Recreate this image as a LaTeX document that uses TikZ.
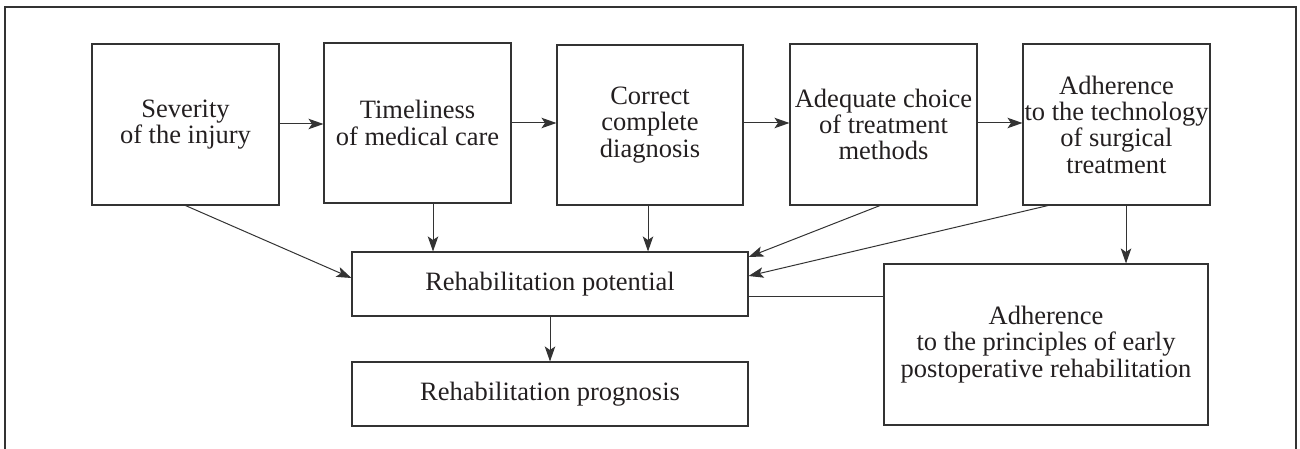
\documentclass[tikz,border=0pt]{standalone}
\usepackage{fontspec}
\setmainfont{Liberation Serif}
\usetikzlibrary{arrows.meta,calc}
\definecolor{linec}{HTML}{333333}
\definecolor{textc}{HTML}{231F20}
\begin{document}
\begin{tikzpicture}[x=1pt,y=-1pt,
 box/.style={draw=linec, line width=1.1pt, align=center, inner sep=0pt, text=textc,
   font=\fontsize{26.5}{26.3}\selectfont},
 arr/.style={draw=linec, line width=1pt, -{Stealth[length=15pt,width=10.5pt,inset=3.5pt]}},
 plain/.style={draw=linec, line width=1pt},
]
\useasboundingbox (0,0) rectangle (1300,449);
\draw[linec, line width=1.3pt] (5,449) -- (5,7) -- (1296,7) -- (1296,449);
\node[box, minimum width=187pt, minimum height=161pt] (b1) at (185.5,124.5) {Severity\\of the injury};
\node[box, minimum width=187pt, minimum height=160pt] (b2) at (417.5,123) {Timeliness\\of medical care};
\node[box, minimum width=186pt, minimum height=160pt] (b3) at (650,125) {Correct\\complete\\diagnosis};
\node[box, minimum width=187pt, minimum height=161pt] (b4) at (883.5,124.5) {Adequate choice\\of treatment\\methods};
\node[box, minimum width=187pt, minimum height=161pt] (b5) at (1116.5,124.5) {Adherence\\to the technology\\of surgical\\treatment};
\node[box, minimum width=396pt, minimum height=64pt] (rp) at (550,284) {Rehabilitation potential};
\node[box, minimum width=396pt, minimum height=64pt] (pg) at (550,394) {Rehabilitation prognosis};
\node[box, minimum width=324pt, minimum height=161pt] (pr) at (1046,344.5) {Adherence\\to the principles of early\\postoperative rehabilitation};

\draw[arr] (b1.east |- 0,124) -- (b2.west |- 0,124);
\draw[arr] (b2.east |- 0,123) -- (b3.west |- 0,123);
\draw[arr] (b3.east |- 0,123) -- (b4.west |- 0,123);
\draw[arr] (b4.east |- 0,123) -- (b5.west |- 0,123);

\draw[arr] (b1.south) -- (rp.west |- 0,278);
\draw[arr] (b2.south -| 433,0) -- (rp.north -| 433,0);
\draw[arr] (b3.south -| 648,0) -- (rp.north -| 648,0);
\draw[arr] (b4.south -| 880,0) -- (rp.east |- 0,257);
\draw[arr] (b5.south -| 1048,0) -- (rp.east |- 0,276);
\draw[arr] (b5.south -| 1126,0) -- (pr.north -| 1126,0);
\draw[arr] (rp.south) -- (pg.north);
\draw[plain] (rp.east |- 0,296) -- (pr.west |- 0,296);
\end{tikzpicture}
\end{document}
